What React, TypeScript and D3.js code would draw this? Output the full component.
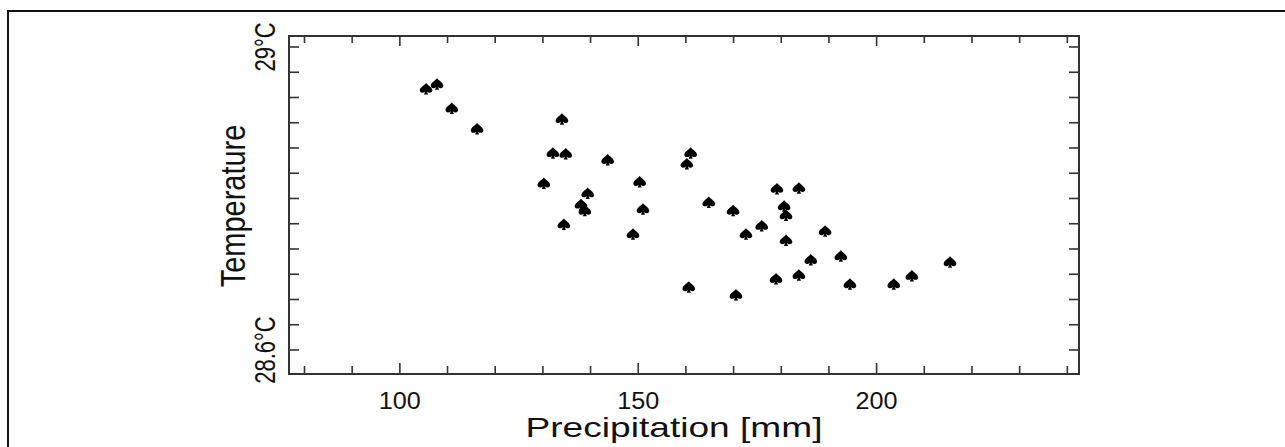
import React from "react";
import * as d3 from "d3";

// values
const precipitation = [105.5, 107.8, 110.9, 116.2, 134.0, 132.1, 134.8, 143.6, 130.2, 139.4, 138.0, 138.8, 134.4, 150.3, 151.0, 148.9, 161.0, 160.2, 164.8, 169.9, 172.6, 175.9, 179.1, 183.7, 180.6, 181.0, 181.0, 189.2, 186.2, 192.5, 160.6, 170.5, 178.9, 183.7, 194.4, 203.6, 207.4, 215.4];
const temperature = [28.945, 28.951, 28.919, 28.892, 28.905, 28.860, 28.859, 28.851, 28.820, 28.807, 28.792, 28.784, 28.766, 28.822, 28.786, 28.753, 28.860, 28.846, 28.795, 28.784, 28.753, 28.764, 28.813, 28.814, 28.790, 28.778, 28.745, 28.757, 28.719, 28.724, 28.683, 28.673, 28.694, 28.699, 28.687, 28.687, 28.698, 28.716];

const xMajor = [100, 150, 200];
const xMinor = [80, 90, 100, 110, 120, 130, 140, 150, 160, 170, 180, 190, 200, 210, 220, 230, 240];
const yLabels = [{ value: 29.0, text: "29°C" }, { value: 28.6, text: "28.6°C" }];

// spade shaped marker
const spade = {
  draw(ctx: any) {
    const k = 1.15;
    ctx.moveTo(0, -5 * k);
    ctx.bezierCurveTo(2 * k, -2.5 * k, 5.5 * k, -1 * k, 5.5 * k, 1.5 * k);
    ctx.bezierCurveTo(5.5 * k, 3.8 * k, 2.5 * k, 4.2 * k, 0.8 * k, 2.5 * k);
    ctx.lineTo(1.8 * k, 5 * k);
    ctx.lineTo(-1.8 * k, 5 * k);
    ctx.lineTo(-0.8 * k, 2.5 * k);
    ctx.bezierCurveTo(-2.5 * k, 4.2 * k, -5.5 * k, 3.8 * k, -5.5 * k, 1.5 * k);
    ctx.bezierCurveTo(-5.5 * k, -1 * k, -2 * k, -2.5 * k, 0, -5 * k);
    ctx.closePath();
  },
};

export default function App() {
  const svgRef = React.useRef(null);
  const width = 1285;
  const height = 447;
  const plot = { left: 289, right: 1079, top: 36, bottom: 374 };

  React.useEffect(() => {
    const svg = d3.select(svgRef.current);
    svg.selectAll("*").remove();

    const x = d3.scaleLinear().domain([76.75, 242.45]).range([plot.left, plot.right]);
    const y = d3.scaleLinear().domain([28.5683, 29.0145]).range([plot.bottom, plot.top]);
    const yTicks = d3.range(13).map((i) => 28.6 + (i * 0.4) / 12);

    const font = "'Liberation Sans', Arial, sans-serif";
    const stroke = "#333";

    // outer page frame
    svg.append("path")
      .attr("d", `M8,${height} L8,11 L${width},11`)
      .attr("fill", "none")
      .attr("stroke", "#111")
      .attr("stroke-width", 2);

    // plot box
    svg.append("rect")
      .attr("x", plot.left)
      .attr("y", plot.top)
      .attr("width", plot.right - plot.left)
      .attr("height", plot.bottom - plot.top)
      .attr("fill", "none")
      .attr("stroke", stroke)
      .attr("stroke-width", 2);

    const ticks = svg.append("g").attr("stroke", stroke).attr("stroke-width", 1.6);

    xMinor.forEach((v) => {
      const len = xMajor.includes(v) ? 11 : 8;
      ticks.append("line").attr("x1", x(v)).attr("x2", x(v)).attr("y1", plot.bottom).attr("y2", plot.bottom - len);
      ticks.append("line").attr("x1", x(v)).attr("x2", x(v)).attr("y1", plot.top).attr("y2", plot.top + len - 1);
    });
    yTicks.forEach((v) => {
      ticks.append("line").attr("y1", y(v)).attr("y2", y(v)).attr("x1", plot.left).attr("x2", plot.left + 10);
      ticks.append("line").attr("y1", y(v)).attr("y2", y(v)).attr("x1", plot.right).attr("x2", plot.right - 10);
    });

    // x tick labels
    svg.append("g")
      .selectAll("text")
      .data(xMajor)
      .enter()
      .append("text")
      .attr("x", (d) => x(d))
      .attr("y", 409)
      .attr("text-anchor", "middle")
      .attr("font-family", font)
      .attr("font-size", 23)
      .attr("textLength", 42)
      .attr("lengthAdjust", "spacingAndGlyphs")
      .attr("fill", "#111")
      .text((d) => d);

    // y tick labels, rotated
    svg.append("g")
      .selectAll("text")
      .data(yLabels)
      .enter()
      .append("text")
      .attr("transform", (d) => `translate(275,${y(d.value)}) scale(1.3,1) rotate(-90)`)
      .attr("text-anchor", "middle")
      .attr("font-family", font)
      .attr("font-size", 22)
      .attr("fill", "#111")
      .text((d) => d.text);

    // axis titles
    svg.append("text")
      .attr("x", 674)
      .attr("y", 437)
      .attr("text-anchor", "middle")
      .attr("font-family", font)
      .attr("font-size", 28)
      .attr("textLength", 297)
      .attr("lengthAdjust", "spacingAndGlyphs")
      .attr("fill", "#111")
      .text("Precipitation [mm]");

    svg.append("text")
      .attr("transform", "translate(245,206) scale(1.2,1) rotate(-90)")
      .attr("text-anchor", "middle")
      .attr("font-family", font)
      .attr("font-size", 29)
      .attr("fill", "#111")
      .text("Temperature");

    // markers
    const sym = d3.symbol().type(spade as any);
    svg.append("g")
      .selectAll("path")
      .data(precipitation.map((p, i) => ({ p, t: temperature[i] })))
      .enter()
      .append("path")
      .attr("d", sym as any)
      .attr("transform", (d) => `translate(${x(d.p)},${y(d.t)})`)
      .attr("fill", "#000");
  }, []);

  return (
    <svg
      ref={svgRef}
      width={width}
      height={height}
      style={{ position: "absolute", left: 0, top: 0, background: "#fff" }}
    />
  );
}
